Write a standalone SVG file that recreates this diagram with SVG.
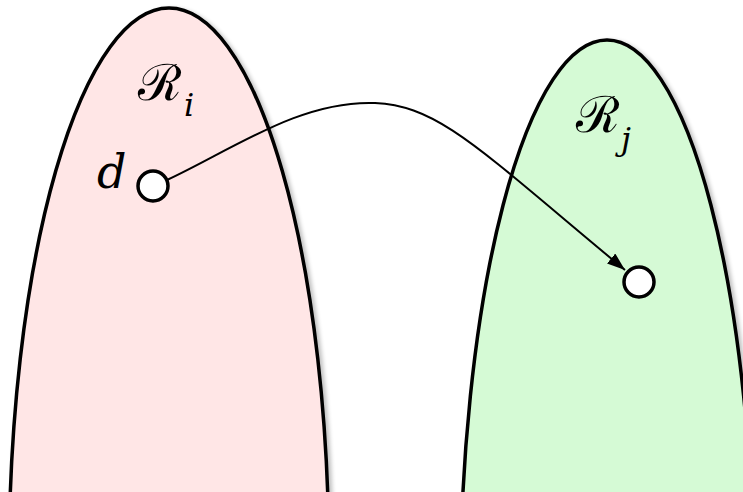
<svg xmlns="http://www.w3.org/2000/svg" width="743" height="492" viewBox="0 0 743 492">
  <defs>
    <filter id="shadow" x="-20%" y="-20%" width="140%" height="140%">
      <feGaussianBlur in="SourceAlpha" stdDeviation="2"/>
      <feOffset dx="3" dy="2" result="b"/>
      <feComponentTransfer><feFuncA type="linear" slope="0.25"/></feComponentTransfer>
      <feMerge><feMergeNode/><feMergeNode in="SourceGraphic"/></feMerge>
    </filter>
    <marker id="arrow" markerUnits="userSpaceOnUse" markerWidth="20" markerHeight="14" refX="18" refY="6.5" orient="auto">
      <path d="M0,0 L18,6.5 L0,13 z" fill="#000"/>
    </marker>
  </defs>
  <style>
    .region { stroke: #000; stroke-width: 3.5; filter: url(#shadow); }
    .node { fill: #fff; stroke: #000; stroke-width: 3.5; }
    .lbl { font-family: "DejaVu Serif", "Liberation Serif", serif; font-style: italic; fill: #000; }
    .cal { font-family: "DejaVu Serif", "Liberation Serif", serif; font-style: normal; fill: #000; }
    .edge { fill: none; stroke: #000; stroke-width: 2; }
  </style>
  <g id="region-i">
    <ellipse class="region" cx="169" cy="563" rx="160" ry="555" fill="#ffe6e6"/>
    <text class="cal" x="138" y="100" font-size="50">ℛ</text>
    <text class="lbl" x="184" y="116" font-size="32">i</text>
  </g>
  <g id="region-j">
    <ellipse class="region" cx="607" cy="604" rx="147" ry="564" fill="#d5fad5"/>
    <text class="cal" x="576" y="132" font-size="50">ℛ</text>
    <text class="lbl" x="621" y="150" font-size="32">j</text>
  </g>
  <g id="node-d">
    <circle class="node" cx="153" cy="186" r="15"/>
    <text class="lbl" x="97" y="188" font-size="46">d</text>
  </g>
  <g id="node-target">
    <circle class="node" cx="639" cy="282" r="15"/>
  </g>
  <g id="connectors">
    <path class="edge" d="M167,180 C232,150 300,100 375,103 C440,106 480,150 625,270" marker-end="url(#arrow)"/>
  </g>
</svg>
